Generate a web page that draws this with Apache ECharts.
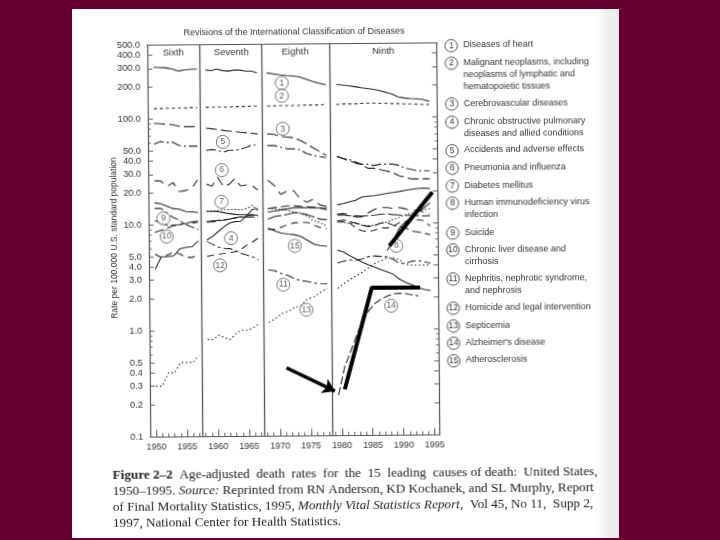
<!DOCTYPE html>
<html>
<head>
<meta charset="utf-8">
<style>
html,body{margin:0;padding:0;width:720px;height:540px;overflow:hidden;background:#660033;}
#sheet{position:absolute;left:72px;top:9px;width:547px;height:529px;background:linear-gradient(to right,#fff 0,#fff 96%,#efefef 98%,#ececec 100%);}
#chart{position:absolute;left:0;top:0;width:720px;height:540px;transform:rotate(-0.45deg);transform-origin:360px 270px;filter:blur(0.35px);}
</style>
<script src="https://cdn.jsdelivr.net/npm/echarts@6/dist/echarts.min.js"></script>
</head>
<body>
<div id="sheet"></div>
<div id="chart"></div>
<script>
const yearsSixth=[1950,1951,1952,1953,1954,1955,1956,1957];
const yearsSeventh=[1958.4,1959.3,1960.2,1961.2,1962.1,1963,1963.9,1964.9,1965.8,1966.7];
const yearsEighth=[1968.3,1969.4,1970.4,1971.5,1972.5,1973.6,1974.6,1975.7,1976.7,1977.8];
const yearsNinth=[1979.5,1980.5,1981.5,1982.5,1983.5,1984.5,1985.5,1986.5,1987.5,1988.5,1989.5,1990.5,1991.5,1992.5,1993.5,1994.5];
const panelYears=[yearsSixth,yearsSeventh,yearsEighth,yearsNinth];
const revisionBoundaries=[1957.5,1967.5,1978.5];

const heart=[[307,305,303,295,282,289,292,294],[287,283,292,282,279,286,285,278,278,268],[267,261,255,251,248,243,231,220,211,204],[205,202,199,195,190,187,183,178,172,165,155,151,149,148,146,140]];
const malignant=[[125,125,126,126,126,126,127,127],[127,128,128,128,128,129,129,129,130,130],[130,130,131,131,131,131,132,132,132,133],[133,134,134,134,135,136,136,135,135,134,134,133,133,132,131,131]];
const cerebrovascular=[[91,90,89,88,85,84,84,84],[81,80,79,77,76,75,74,73,72,71],[71,70,67,66,65,61,57,52,48,44],[43,41,39,37,36,33,33,32,31,30,28,27,26,26,26,26]];
const copd=[[3.8,5,5,5.1,5.9,6.1,6.2,7],[7.1,7.7,8.5,9.5,10.3,10.6,10.7,12.1,13.8,14],[13,13.2,13.6,13.9,14.2,14.2,14.1,14,14,13.9],[15,15.4,16,16.5,17.7,18,18.2,18.6,19,19.4,19.8,20.3,20.7,21.1,21.3,21]];
const accidents=[[58,61,60,60,56,55,55,55],[50,51,50,48,50,50,51,53,56,56],[55,55,53,51,51,50,46,44,43,42],[43,41,40,38,36,36,35,36,36,36,35,33,32,31,31,31]];
const pneumonia=[[26,26,23,25,20.5,21,22,26.5],[24,23,28,22.5,24,27,23,23.5,23,21],[26,23,19,20.5,20.5,17,16,17,15,14.5],[12.2,12.4,12,11.5,11.5,12.5,13.5,14,14,13.8,14,13.6,13,13.2,12.5,12.3]];
const diabetes=[null,[13.3,13.4,13.5,13.7,13.8,13.8,13.7,14,15,13.4],[14,13.8,13.6,13.4,12.9,12.6,11.8,10.7,10.2,9.5],[10.6,10.2,10,10.1,9.6,9.5,9.6,10,10.2,10.8,11.3,12,12.4,13,13.3,13.6]];
const hiv=[null,null,null,[null,null,null,null,null,null,null,null,5.5,6.8,8.9,10.2,11.3,12.6,13.8,15.4]];
const suicide=[[11,10.5,9.9,9.9,10,10.3,10.6,10.8],[10.7,10.8,10.9,11,11.2,11.5,11.7,11.7,11.7,11.7],[11.1,11.8,12,12.3,12.7,12.5,12.2,11.6,11,10.9],[12,12,11.8,11.8,11.7,11.8,11.9,12.1,12.2,12,11.9,11.8,11.8,11.7,11.6,11.7]];
const liver=[[8.5,8.9,9.3,9.8,10,10.3,10.3,10.5],[10.5,10.6,10.7,11,11.2,11.5,11.8,12,12.2,12.4],[14,14.3,14.5,14.8,14.8,14.6,14.5,14.3,14,13.5],[10.5,10.8,10.4,10,9.6,9.3,9.5,10,10.1,9.6,9.2,9,8.4,8.2,8,7.7]];
const nephritis=[[14.3,14.3,12.9,11.7,11,10,9.5,9],[6.9,6.5,6.1,5.95,5.9,5.6,5.3,5.1,4.9,4.6],[3.7,3.6,3.4,3.25,3.05,2.9,2.85,2.75,2.72,2.7],[4.25,4.4,4.5,4.5,4.6,4.85,4.9,4.85,4.8,4.55,4.15,4.15,4.35,4.4,4.3,4.15]];
const homicide=[[5.3,4.9,5.2,5.5,5.3,4.9,4.9,5.2],[5,5.1,5.2,5.3,5.4,5.5,5.8,6.4,6.8,7.4],[8.9,8.9,9.3,9.9,10.2,10.3,10.3,9.7,9.2,8.9],[10.3,10.4,10.1,9,8.5,8.3,8.6,9,9,9.3,10.1,10.3,10.6,10.7,10.5,9.3]];
const septicemia=[[0.3,0.3,0.4,0.4,0.5,0.5,0.5,0.58],[0.82,0.82,0.9,0.85,0.82,0.93,1,1,1.05,1.15],[1.18,1.28,1.42,1.5,1.62,1.7,1.95,2.05,2.25,2.45],[2.43,2.7,2.95,3.2,3.45,3.8,4.17,4.4,4.7,4.7,4.5,4.05,4,4,4,4]];
const alzheimer=[null,null,null,[0.24,0.44,0.62,0.88,1.2,1.5,1.75,1.92,2.05,2.15,2.17,2.15,2.09,2.05,null,null]];
const atherosclerosis=[[16.2,15.8,15,14.2,14,13.3,13.2,13],[13.3,13.3,13.2,12.9,12.6,12.4,12.3,12.3,12.2,12.1],[9.2,8.6,8.2,8,7.9,7.6,7,6.4,6.2,6.1],[5.6,5.35,4.95,4.6,4.3,4.05,3.85,3.65,3.47,3.28,2.95,2.75,2.6,2.45,2.35,2.3]];

const causes=[
 ["Diseases of heart",heart,"solid"],
 ["Malignant neoplasms",malignant,[3,3]],
 ["Cerebrovascular diseases",cerebrovascular,[11,4]],
 ["Chronic obstructive pulmonary diseases",copd,"solid"],
 ["Accidents and adverse effects",accidents,[10,3,2,3]],
 ["Pneumonia and influenza",pneumonia,[10,6]],
 ["Diabetes mellitus",diabetes,[1.5,2]],
 ["Human immunodeficiency virus infection",hiv,"solid"],
 ["Suicide",suicide,[14,3]],
 ["Chronic liver disease and cirrhosis",liver,[9,4]],
 ["Nephritis, nephrotic syndrome, and nephrosis",nephritis,[9,3,3,3]],
 ["Homicide and legal intervention",homicide,[7,5]],
 ["Septicemia",septicemia,[1.5,2.5]],
 ["Alzheimer's disease",alzheimer,[8,3]],
 ["Atherosclerosis",atherosclerosis,"solid"]
];

// circled number placed on the chart: [year, rate, number]
const circledNumbers=[[1970.7,214,1],[1970.7,162,2],[1970.8,79,3],[1962.3,7.4,4],[1961.1,60,5],[1960.9,32.5,6],[1960.8,16.3,7],[1989,6.1,8],[1951.4,11.5,9],[1951.9,7.75,10],[1970.7,2.67,11],[1960.5,4.1,12],[1974.4,1.54,13],[1988.1,1.66,14],[1972.6,6.2,15]];

// hand-drawn black marks on the photographed page
const penStrokeA=[[1994.9,19.4],[1987.9,6.1]];
const penStrokeB=[[1980.5,0.271],[1985,2.47],[1992.8,2.45]];
const penArrow=[[1971.1,0.438],[1978.9,0.262]];

const yTickLabels=[0.1,0.2,0.3,0.4,0.5,1,2,3,4,5,10,20,30,40,50,100,200,300,400,500];
const yMinorTicks=[0.6,0.7,0.8,0.9,6,7,8,9,60,70,80,90];
const xTickLabels=[1950,1955,1960,1965,1970,1975,1980,1985,1990,1995];

const panelNames=[["Sixth",175],["Seventh",233],["Eighth",297],["Ninth",385]];
const legendEntries=[
 [1,46.5,["Diseases of heart"]],
 [2,64,["Malignant neoplasms, including","neoplasms of lymphatic and","hematopoietic tissues"]],
 [3,104.8,["Cerebrovascular diseases"]],
 [4,123,["Chronic obstructive pulmonary","diseases and allied conditions"]],
 [5,151.5,["Accidents and adverse effects"]],
 [6,169,["Pneumonia and influenza"]],
 [7,186.8,["Diabetes mellitus"]],
 [8,204,["Human immunodeficiency virus","infection"]],
 [9,233.8,["Suicide"]],
 [10,250.8,["Chronic liver disease and","cirrhosis"]],
 [11,279.8,["Nephritis, nephrotic syndrome,","and nephrosis"]],
 [12,309,["Homicide and legal intervention"]],
 [13,326.8,["Septicemia"]],
 [14,344,["Alzheimer's disease"]],
 [15,361.5,["Atherosclerosis"]]
];
const captionLines=[
 "{b|Figure 2\u20132}  Age-adjusted  death  rates  for  the  15  leading  causes of death:  United States,",
 "1950\u20131995. {i|Source:} Reprinted from RN Anderson, KD Kochanek, and SL Murphy, Report",
 "of Final Mortality Statistics, 1995, {i|Monthly Vital Statistics Report,}  Vol 45, No 11,  Supp 2,",
 "1997, National Center for Health Statistics."
];

const INK="#2a2a2a";
const sansFont="Liberation Sans";

const causeSeries=causes.map(([name,panels,dash])=>{
  const data=[];
  panels.forEach((vals,p)=>{
    if(!vals)return;
    vals.forEach((v,i)=>data.push([panelYears[p][i],v]));
    data.push([panelYears[p][panelYears[p].length-1]+0.1,null]);
  });
  return {type:'line',name,data,symbol:'none',connectNulls:false,z:3,silent:true,
    lineStyle:{color:INK,width:1.1,type:dash}};
});

const penStyle={color:'#000',width:4,type:'solid',cap:'butt'};
const extraSeries=[
 {type:'line',name:'boundaries',data:[],symbol:'none',z:2,silent:true,
  markLine:{silent:true,symbol:'none',label:{show:false},animation:false,
    lineStyle:{color:'#555',width:1.3,type:'solid'},
    data:revisionBoundaries.map(x=>({xAxis:x}))}},
 {type:'scatter',name:'numbers',symbol:'circle',symbolSize:13,z:4,silent:true,
  data:circledNumbers.map(c=>({value:[c[0],c[1]],label:{formatter:String(c[2])}})),
  itemStyle:{color:'rgba(255,255,255,0.9)',borderColor:'#444',borderWidth:0.9},
  label:{show:true,position:'inside',color:'#333',fontSize:8.5,fontFamily:sansFont}},
 {type:'line',name:'penA',data:penStrokeA,symbol:'none',z:6,silent:true,lineStyle:penStyle},
 {type:'line',name:'penB',data:penStrokeB,symbol:'none',z:6,silent:true,lineStyle:penStyle},
 {type:'line',name:'penArrow',data:[],symbol:'none',z:6,silent:true,
  markLine:{silent:true,animation:false,symbol:['none','arrow'],symbolSize:12,label:{show:false},
    lineStyle:{color:'#000',width:3.5,type:'solid'},
    data:[[{coord:penArrow[0]},{coord:penArrow[1]}]]}}
];

const legendGraphics=[];
legendEntries.forEach(([n,y,lines])=>{
  legendGraphics.push({type:'circle',shape:{cx:453,cy:y,r:6.2},style:{fill:'none',stroke:'#444',lineWidth:0.9},silent:true});
  legendGraphics.push({type:'text',x:453,y:y,silent:true,style:{text:String(n),fontSize:8.5,fontFamily:sansFont,fill:'#333',textAlign:'center',textVerticalAlign:'middle'}});
  lines.forEach((t,i)=>legendGraphics.push({type:'text',x:465,y:y-0.5+i*12,silent:true,style:{text:t,fontSize:9,fontFamily:sansFont,fill:'#333',textVerticalAlign:'middle'}}));
});
const panelGraphics=panelNames.map(([t,x])=>({type:'text',x,y:51.5,silent:true,style:{text:t,fontSize:9.5,fontFamily:sansFont,fill:'#333',textAlign:'center',textVerticalAlign:'middle'}}));
const captionSize=13.2;
const captionGraphics=captionLines.map((t,i)=>({type:'text',x:111,y:474+i*15.8,silent:true,style:{text:t,fontSize:captionSize,fontFamily:'Liberation Serif',fill:'#222',textVerticalAlign:'middle',
  rich:{b:{fontWeight:'bold',fontSize:captionSize,fontFamily:'Liberation Serif',fill:'#222'},i:{fontStyle:'italic',fontSize:captionSize,fontFamily:'Liberation Serif',fill:'#222'}}}}));
const yTitle={type:'text',x:115,y:236,rotation:Math.PI/2,silent:true,style:{text:'Rate per 100,000 U.S. standard population',fontSize:8.5,fontFamily:sansFont,fill:'#333',textAlign:'center',textVerticalAlign:'middle'}};

const YMIN=0.1,YMAX=500;
const logAxis=(over)=>Object.assign({type:'log',logBase:10,min:YMIN,max:YMAX,splitLine:{show:false},minorTick:{show:false},
  axisLine:{show:true,lineStyle:{color:'#555',width:1.2}},axisLabel:{show:false}},over);
const chart=echarts.init(document.getElementById('chart'),null,{renderer:'canvas'});
chart.setOption({
  animation:false,
  backgroundColor:'transparent',
  title:{text:'Revisions of the International Classification of Diseases',left:291,top:22,textAlign:'center',
    textStyle:{fontSize:9,fontWeight:'normal',fontFamily:sansFont,color:'#333'}},
  grid:{left:149,right:720-438.5,top:43.3,bottom:540-435.2,containLabel:false},
  xAxis:[
   {type:'value',min:1949,max:1995.8,interval:1,position:'bottom',splitLine:{show:false},
    axisLine:{show:true,lineStyle:{color:'#555',width:1.2}},
    axisTick:{show:true,inside:true,length:3.5,lineStyle:{color:'#555',width:0.9}},
    axisLabel:{show:true,customValues:xTickLabels,formatter:v=>String(v),fontSize:9,fontFamily:sansFont,color:'#333',margin:6}},
   {type:'value',min:1949,max:1995.8,position:'bottom',splitLine:{show:false},axisLine:{show:false},
    axisTick:{show:true,inside:true,length:7,customValues:xTickLabels,lineStyle:{color:'#555',width:0.9}},axisLabel:{show:false}},
   {type:'value',min:1949,max:1995.8,position:'top',splitLine:{show:false},
    axisLine:{show:true,lineStyle:{color:'#555',width:1.2}},axisTick:{show:false},axisLabel:{show:false}}
  ],
  yAxis:[
   logAxis({position:'left',axisTick:{show:true,inside:true,length:5,customValues:yTickLabels,lineStyle:{color:'#555',width:0.9}},
     axisLabel:{show:true,customValues:yTickLabels,formatter:v=>Number(v).toFixed(1),fontSize:9.3,fontFamily:sansFont,color:'#333',margin:7}}),
   logAxis({position:'right',axisTick:{show:true,inside:true,length:5,customValues:yTickLabels,lineStyle:{color:'#555',width:0.9}}}),
   logAxis({position:'left',axisLine:{show:false},axisTick:{show:true,inside:true,length:3,customValues:yMinorTicks,lineStyle:{color:'#555',width:0.8}}}),
   logAxis({position:'right',axisLine:{show:false},axisTick:{show:true,inside:true,length:3,customValues:yMinorTicks,lineStyle:{color:'#555',width:0.8}}})
  ],
  graphic:[yTitle,...panelGraphics,...legendGraphics,...captionGraphics],
  series:[...causeSeries,...extraSeries]
});
</script>
</body>
</html>
